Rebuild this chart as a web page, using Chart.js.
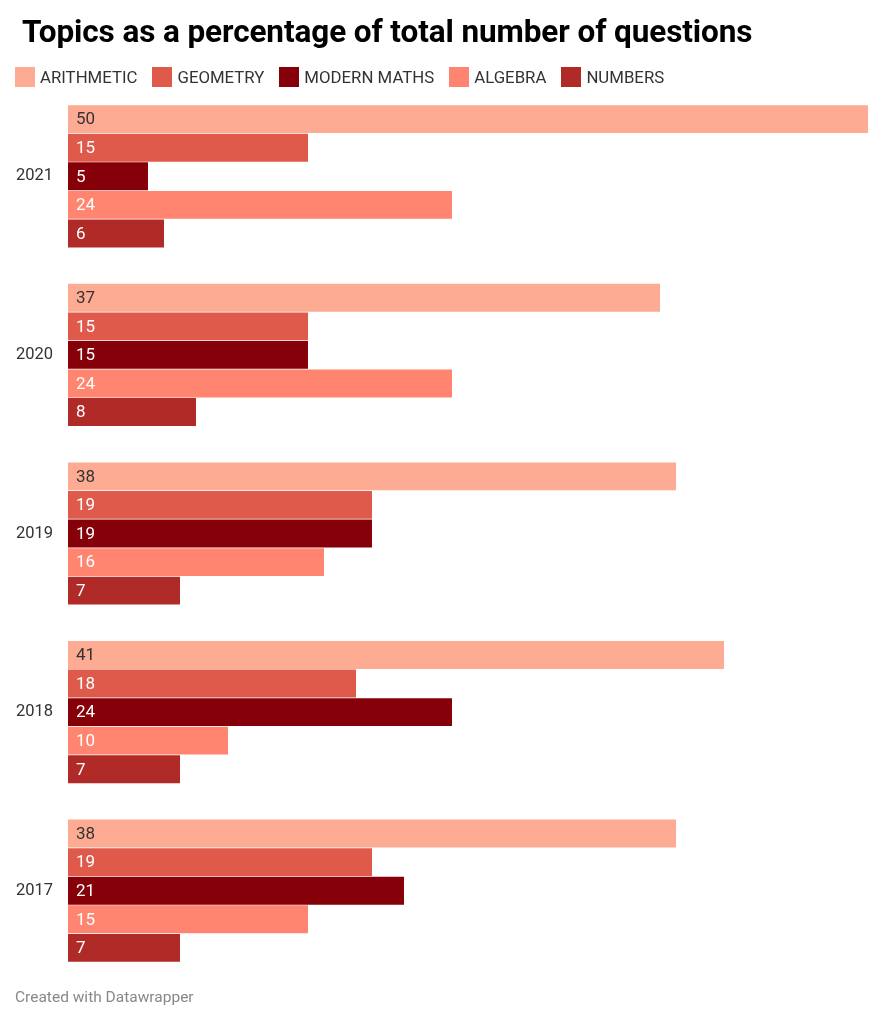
<!DOCTYPE html>
<html>
<head>
<meta charset="utf-8">
<script src="https://cdn.jsdelivr.net/npm/chart.js@4"></script>
<style>
  body { margin: 0; background: #fff; font-family: Roboto, sans-serif; }
  #wrap { position: relative; width: 884px; height: 1024px; }
  #title { position: absolute; left: 22px; top: 13px; font-size: 31.5px; font-weight: bold; color: #000; letter-spacing: -0.1px; }
  #legend { position: absolute; left: 15px; top: 67px; display: flex; font-size: 16.8px; color: #333; }
  #legend .item { display: flex; align-items: center; margin-right: 15px; height: 20px; }
  #legend .box { width: 20px; height: 20px; margin-right: 5px; }
  #footer { position: absolute; left: 15px; top: 988px; font-size: 15.5px; color: #888; }
  canvas { position: absolute; left: 0; top: 0; }
</style>
</head>
<body>
<div id="wrap">
  <canvas id="chart" width="884" height="1024"></canvas>
  <div id="title">Topics as a percentage of total number of questions</div>
  <div id="legend"></div>
  <div id="footer">Created with Datawrapper</div>
</div>
<script>
const years = ['2021', '2020', '2019', '2018', '2017'];
const topics = ['ARITHMETIC', 'GEOMETRY', 'MODERN MATHS', 'ALGEBRA', 'NUMBERS'];
const arithmetic = [50, 37, 38, 41, 38];
const geometry = [15, 15, 19, 18, 19];
const modernMaths = [5, 15, 19, 24, 21];
const algebra = [24, 24, 16, 10, 15];
const numbers = [6, 8, 7, 7, 7];
const colors = ['#fdab93', '#e05a4c', '#850008', '#ff8570', '#b02b28'];
const labelColors = ['#333333', '#ffffff', '#ffffff', '#ffffff', '#ffffff'];

const seriesValues = [arithmetic, geometry, modernMaths, algebra, numbers];

// legend built from the same arrays
const legendEl = document.getElementById('legend');
topics.forEach((name, i) => {
  const item = document.createElement('div');
  item.className = 'item';
  const box = document.createElement('span');
  box.className = 'box';
  box.style.background = colors[i];
  const txt = document.createElement('span');
  txt.textContent = name;
  item.appendChild(box);
  item.appendChild(txt);
  legendEl.appendChild(item);
});

// draws the value inside the start of each bar
const valueLabels = {
  id: 'valueLabels',
  afterDatasetsDraw(chart) {
    const ctx = chart.ctx;
    ctx.save();
    ctx.font = '17px Roboto, sans-serif';
    ctx.textBaseline = 'middle';
    ctx.textAlign = 'left';
    chart.data.datasets.forEach((ds, di) => {
      const meta = chart.getDatasetMeta(di);
      ctx.fillStyle = labelColors[di];
      meta.data.forEach((bar, i) => {
        ctx.fillText(String(ds.data[i]), bar.base + 8, bar.y + 1);
      });
    });
    ctx.restore();
  }
};

const datasets = topics.map((name, i) => ({
  label: name,
  data: seriesValues[i],
  backgroundColor: colors[i],
  borderWidth: 0,
  categoryPercentage: 0.8,
  barPercentage: 0.975
}));

new Chart(document.getElementById('chart'), {
  type: 'bar',
  data: { labels: years, datasets },
  options: {
    indexAxis: 'y',
    responsive: false,
    animation: false,
    layout: { padding: { top: 87, bottom: 44, left: 0, right: 16 } },
    plugins: {
      legend: { display: false },
      title: { display: false },
      tooltip: { enabled: false }
    },
    scales: {
      x: { display: false, min: 0, max: 50 },
      y: {
        grid: { display: false, drawTicks: false },
        border: { display: false },
        ticks: { color: '#333', font: { size: 16.5, family: 'Roboto, sans-serif' }, padding: 15 },
        afterFit(scale) { scale.width = 68; }
      }
    }
  },
  plugins: [valueLabels]
});
</script>
</body>
</html>
